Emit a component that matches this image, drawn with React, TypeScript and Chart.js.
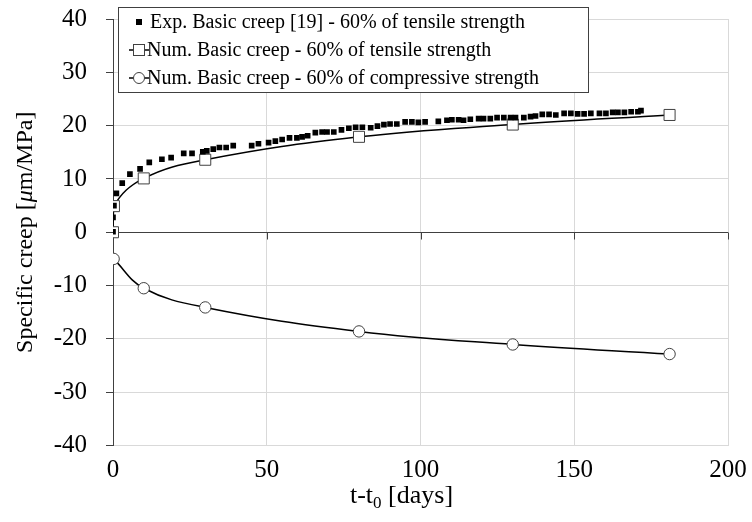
import { useEffect, useRef } from "react";
import { Chart, registerables } from "chart.js";

Chart.register(...registerables);

// ---- data ----
const expDays = [0, 0, 0.3, 1.1, 3.0, 5.5, 8.8, 11.8, 15.9, 18.9, 23.0, 25.7, 29.2, 30.5, 32.6, 34.6, 36.8, 39.1, 45.1, 47.3, 50.6, 52.8, 55.0, 57.4, 59.8, 61.5, 63.3, 65.8, 68.0, 69.6, 71.8, 74.3, 76.7, 78.9, 81.1, 83.8, 86.0, 88.1, 90.1, 92.3, 95.0, 97.2, 99.3, 101.5, 105.8, 108.6, 110.2, 112.4, 114.0, 116.2, 118.9, 120.5, 122.7, 124.9, 127.1, 129.3, 130.9, 133.6, 135.8, 137.4, 139.6, 141.8, 144.0, 146.7, 148.9, 151.1, 153.2, 155.4, 158.2, 160.3, 162.5, 164.2, 166.3, 168.5, 170.7, 171.7];
const expCreep = [0.1, 2.8, 5.0, 7.3, 9.2, 10.9, 11.9, 13.1, 13.7, 14.0, 14.8, 14.8, 15.1, 15.25, 15.6, 15.9, 15.9, 16.25, 16.25, 16.6, 16.8, 17.1, 17.4, 17.7, 17.7, 17.9, 18.1, 18.7, 18.8, 18.8, 18.8, 19.2, 19.5, 19.7, 19.7, 19.6, 19.9, 20.2, 20.3, 20.3, 20.7, 20.7, 20.6, 20.7, 20.8, 21.0, 21.1, 21.1, 21.0, 21.2, 21.3, 21.3, 21.3, 21.5, 21.5, 21.5, 21.5, 21.5, 21.7, 21.8, 22.1, 22.1, 22.0, 22.3, 22.3, 22.2, 22.2, 22.3, 22.3, 22.3, 22.5, 22.5, 22.5, 22.6, 22.6, 22.8];

const tensileDays = [0, 0.3, 10, 30, 80, 130, 181];
const tensileCreep = [0, 4.9, 10.1, 13.6, 17.9, 20.2, 22.0];

const compressiveDays = [0.2, 10, 30, 80, 130, 181];
const compressiveCreep = [-5.0, -10.5, -14.1, -18.6, -21.05, -22.85];

const seriesLabels = [
  "Exp. Basic creep [19] - 60% of tensile strength",
  "Num. Basic creep - 60% of tensile strength",
  "Num. Basic creep - 60% of compressive strength",
];

const xTickValues = [0, 50, 100, 150, 200];
const yTickValues = [-40, -30, -20, -10, 0, 10, 20, 30, 40];

const FONT = '"Liberation Serif", "Times New Roman", serif';
const GRID = "#d9d9d9";
const AXIS = "#404040";

const toPoints = (xs: number[], ys: number[]) => xs.map((x, i) => ({ x, y: ys[i] }));

const decoPlugin = {
  id: "deco",
  afterDatasetsDraw(chart: any) {
    const ctx = chart.ctx;
    const xs = chart.scales.x;
    const ys = chart.scales.y;
    const y0 = ys.getPixelForValue(0);
    ctx.save();
    ctx.strokeStyle = AXIS;
    ctx.lineWidth = 1;
    ctx.beginPath();
    xTickValues.forEach((v) => {
      if (v === 0) return;
      const px = Math.round(xs.getPixelForValue(v)) + 0.5;
      ctx.moveTo(px, Math.round(y0) + 0.5);
      ctx.lineTo(px, Math.round(y0) + 7.5);
    });
    ctx.stroke();
    ctx.restore();
  },
  afterDraw(chart: any) {
    const ctx = chart.ctx;
    const area = chart.chartArea;
    ctx.save();

    // legend box
    const bx = 118.5, by = 7.5, bw = 470, bh = 85;
    ctx.fillStyle = "#ffffff";
    ctx.fillRect(bx, by, bw, bh);
    ctx.strokeStyle = AXIS;
    ctx.lineWidth = 1;
    ctx.strokeRect(bx, by, bw, bh);

    const rows = [22, 50, 78];
    const mx = 139;
    ctx.font = `20px ${FONT}`;
    ctx.textBaseline = "middle";
    ctx.textAlign = "left";

    // row 0: filled square
    ctx.fillStyle = "#000";
    ctx.fillRect(mx - 3, rows[0] - 3, 6, 6);
    ctx.fillText(seriesLabels[0], 150, rows[0] + 1);

    // row 1: line + open square
    ctx.strokeStyle = "#000";
    ctx.lineWidth = 1.5;
    ctx.beginPath();
    ctx.moveTo(129, rows[1]);
    ctx.lineTo(149, rows[1]);
    ctx.stroke();
    ctx.fillStyle = "#fff";
    ctx.fillRect(mx - 5.5, rows[1] - 5.5, 11, 11);
    ctx.strokeStyle = AXIS;
    ctx.lineWidth = 1;
    ctx.strokeRect(mx - 5.5, rows[1] - 5.5, 11, 11);
    ctx.fillStyle = "#000";
    ctx.fillText(seriesLabels[1], 147, rows[1] + 1);

    // row 2: line + open circle
    ctx.strokeStyle = "#000";
    ctx.lineWidth = 1.5;
    ctx.beginPath();
    ctx.moveTo(129, rows[2]);
    ctx.lineTo(149, rows[2]);
    ctx.stroke();
    ctx.beginPath();
    ctx.arc(mx, rows[2], 5.5, 0, Math.PI * 2);
    ctx.fillStyle = "#fff";
    ctx.fill();
    ctx.strokeStyle = AXIS;
    ctx.lineWidth = 1;
    ctx.stroke();
    ctx.fillStyle = "#000";
    ctx.fillText(seriesLabels[2], 147, rows[2] + 1);

    // y-axis title with italic mu
    ctx.save();
    const yMid = (area.top + area.bottom) / 2;
    ctx.translate(32, yMid);
    ctx.rotate(-Math.PI / 2);
    ctx.textBaseline = "alphabetic";
    const parts: [string, string][] = [
      ["Specific creep [", `24px ${FONT}`],
      ["\u03BC", `italic 24px ${FONT}`],
      ["m/MPa]", `24px ${FONT}`],
    ];
    let total = 0;
    parts.forEach(([t, f]) => {
      ctx.font = f;
      total += ctx.measureText(t).width;
    });
    let cx = -total / 2;
    ctx.fillStyle = "#000";
    parts.forEach(([t, f]) => {
      ctx.font = f;
      ctx.fillText(t, cx, 0);
      cx += ctx.measureText(t).width;
    });
    ctx.restore();

    // x-axis title with subscript
    const xparts: [string, string, number][] = [
      ["t-t", `26px ${FONT}`, 0],
      ["0", `17px ${FONT}`, 5],
      [" [days]", `26px ${FONT}`, 0],
    ];
    let xt = 0;
    xparts.forEach(([t, f]) => {
      ctx.font = f;
      xt += ctx.measureText(t).width;
    });
    const xMid = (area.left + area.right) / 2 - 19;
    let sx = xMid - xt / 2;
    ctx.textBaseline = "alphabetic";
    ctx.fillStyle = "#000";
    xparts.forEach(([t, f, dy]) => {
      ctx.font = f;
      ctx.fillText(t, sx, 503 + dy);
      sx += ctx.measureText(t).width;
    });

    ctx.restore();
  },
};

export default function App() {
  const canvasRef = useRef<HTMLCanvasElement | null>(null);

  useEffect(() => {
    const canvas = canvasRef.current;
    if (!canvas) return;
    const chart = new Chart(canvas, {
      type: "scatter",
      data: {
        datasets: [
          {
            label: seriesLabels[0],
            data: toPoints(expDays, expCreep),
            showLine: false,
            pointStyle: "rect",
            pointRadius: 4,
            pointBackgroundColor: "#000",
            pointBorderColor: "#000",
            pointBorderWidth: 0,
          },
          {
            label: seriesLabels[1],
            data: toPoints(tensileDays, tensileCreep),
            showLine: true,
            borderColor: "#000",
            borderWidth: 1.5,
            tension: 0.4,
            pointStyle: "rect",
            pointRadius: 7.8,
            pointBackgroundColor: "#fff",
            pointBorderColor: AXIS,
            pointBorderWidth: 1,
          },
          {
            label: seriesLabels[2],
            data: toPoints(compressiveDays, compressiveCreep),
            showLine: true,
            borderColor: "#000",
            borderWidth: 1.5,
            tension: 0.4,
            pointStyle: "circle",
            pointRadius: 5.7,
            pointBackgroundColor: "#fff",
            pointBorderColor: AXIS,
            pointBorderWidth: 1,
          },
        ],
      },
      options: {
        animation: false,
        responsive: false,
        devicePixelRatio: 1,
        layout: { padding: { top: 19, right: 24, left: 0, bottom: 0 } },
        plugins: {
          legend: { display: false },
          tooltip: { enabled: false },
        },
        scales: {
          x: {
            type: "linear",
            min: 0,
            max: 200,
            afterBuildTicks: (s: any) => {
              s.ticks = xTickValues.map((v) => ({ value: v }));
            },
            afterFit: (s: any) => {
              s.height = 76.5;
              s.paddingLeft = 0;
              s.paddingRight = 0;
              s.paddingTop = 0;
              s.paddingBottom = 0;
            },
            grid: {
              color: (c: any) => (c.tick && c.tick.value === 0 ? AXIS : GRID),
              drawTicks: false,
              lineWidth: 1,
            },
            border: { display: false },
            ticks: {
              padding: 10,
              color: "#000",
              font: { family: FONT, size: 25 },
              maxRotation: 0,
            },
          },
          y: {
            type: "linear",
            min: -40,
            max: 40,
            afterBuildTicks: (s: any) => {
              s.ticks = yTickValues.map((v) => ({ value: v }));
            },
            afterFit: (s: any) => {
              s.width = 113;
              s.paddingTop = 0;
              s.paddingBottom = 0;
              s.paddingLeft = 0;
              s.paddingRight = 0;
            },
            grid: {
              color: (c: any) => (c.tick && c.tick.value === 0 ? AXIS : GRID),
              tickColor: AXIS,
              tickLength: 7,
              lineWidth: 1,
            },
            border: { display: true, color: AXIS, width: 1 },
            ticks: {
              padding: 19,
              color: "#000",
              font: { family: FONT, size: 25 },
            },
          },
        },
      },
      plugins: [decoPlugin],
    } as any);
    return () => chart.destroy();
  }, []);

  return (
    <div style={{ position: "fixed", left: 0, top: 0, width: 752, height: 522, background: "#fff" }}>
      <canvas ref={canvasRef} width={752} height={522} style={{ width: 752, height: 522, display: "block" }} />
    </div>
  );
}
